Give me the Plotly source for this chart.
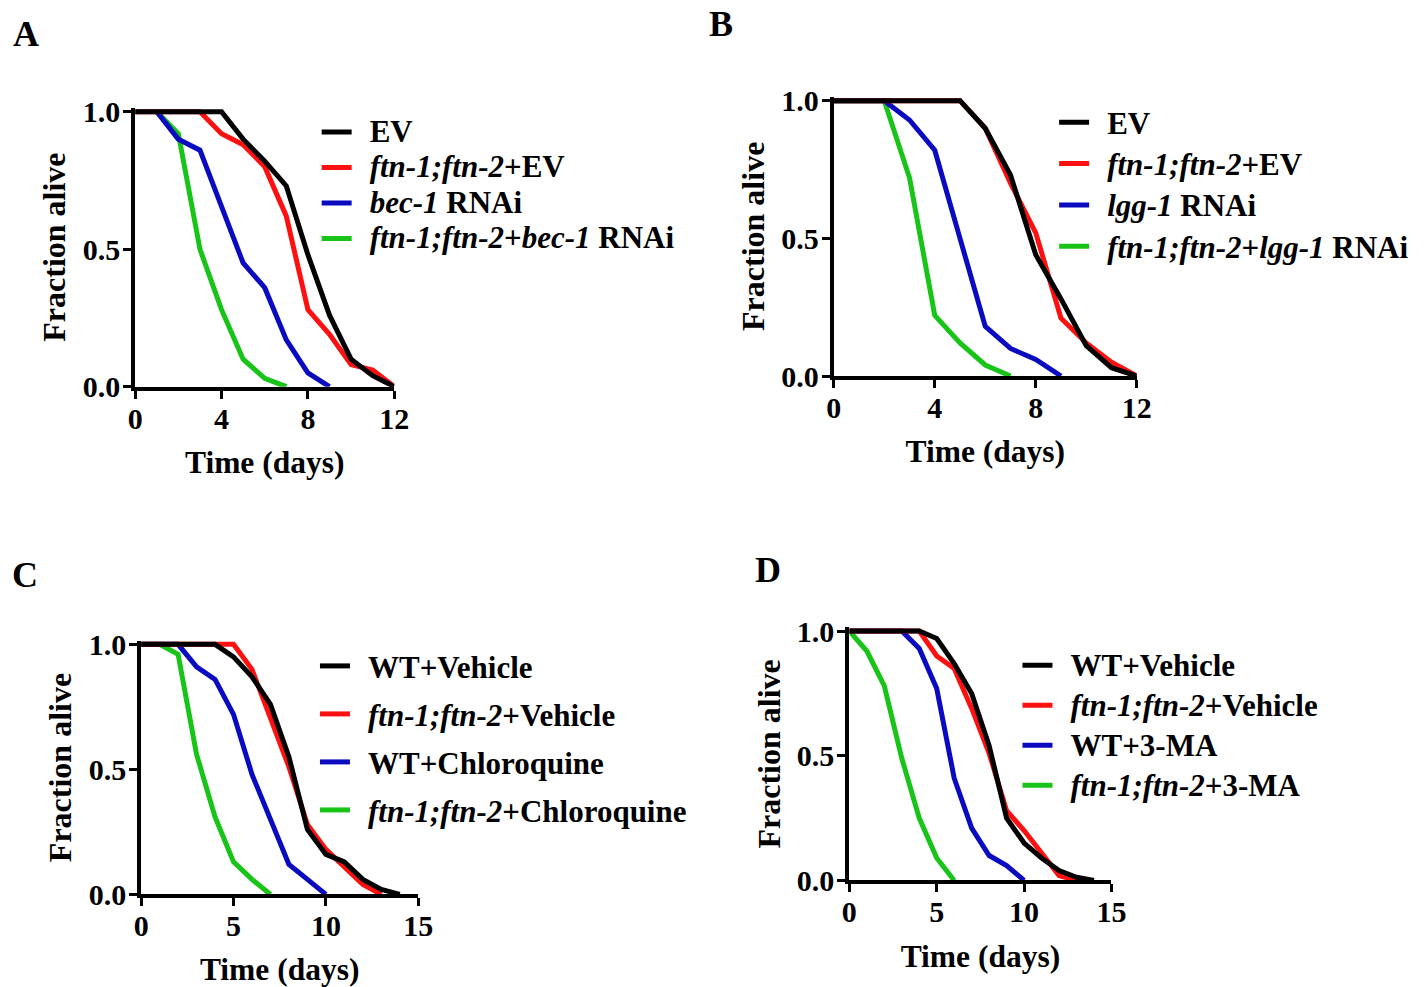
import plotly.graph_objects as go

# ---------------- data ----------------
# Panel A
a_ev_x = [0, 4, 5, 6, 7, 8, 9, 10, 11, 12]
a_ev_y = [1.0, 1.0, 0.90, 0.82, 0.73, 0.48, 0.26, 0.10, 0.04, 0.0]
a_ftn_x = [0, 3, 4, 5, 6, 7, 8, 9, 10, 11, 12]
a_ftn_y = [1.0, 1.0, 0.92, 0.88, 0.80, 0.62, 0.28, 0.19, 0.08, 0.06, 0.0]
a_bec_x = [1, 2, 3, 4, 5, 6, 7, 8, 9]
a_bec_y = [1.0, 0.90, 0.86, 0.66, 0.45, 0.36, 0.17, 0.05, 0.0]
a_ftnbec_x = [1, 2, 3, 4, 5, 6, 7]
a_ftnbec_y = [1.0, 0.92, 0.50, 0.28, 0.10, 0.03, 0.0]

# Panel B
b_ev_x = [0, 5, 6, 7, 8, 9, 10, 11, 12]
b_ev_y = [1.0, 1.0, 0.90, 0.73, 0.44, 0.28, 0.11, 0.03, 0.0]
b_ftn_x = [0, 5, 6, 7, 8, 9, 10, 11, 12]
b_ftn_y = [1.0, 1.0, 0.90, 0.70, 0.52, 0.21, 0.12, 0.05, 0.0]
b_lgg_x = [0, 2, 3, 4, 5, 6, 7, 8, 9]
b_lgg_y = [1.0, 1.0, 0.93, 0.82, 0.50, 0.18, 0.10, 0.06, 0.0]
b_ftnlgg_x = [0, 2, 3, 4, 5, 6, 7]
b_ftnlgg_y = [1.0, 1.0, 0.72, 0.22, 0.12, 0.04, 0.0]

# Panel C
c_wt_x = [0, 4, 5, 6, 7, 8, 9, 10, 11, 12, 13, 14]
c_wt_y = [1.0, 1.0, 0.95, 0.87, 0.76, 0.55, 0.26, 0.16, 0.13, 0.06, 0.02, 0.0]
c_ftn_x = [0, 5, 6, 7, 8, 9, 10, 11, 12, 13]
c_ftn_y = [1.0, 1.0, 0.90, 0.71, 0.51, 0.28, 0.18, 0.11, 0.04, 0.0]
c_wtcq_x = [0, 2, 3, 4, 5, 6, 7, 8, 9, 10]
c_wtcq_y = [1.0, 1.0, 0.91, 0.86, 0.72, 0.48, 0.30, 0.12, 0.06, 0.0]
c_ftncq_x = [0, 1, 2, 3, 4, 5, 6, 7]
c_ftncq_y = [1.0, 1.0, 0.96, 0.56, 0.31, 0.13, 0.06, 0.0]

# Panel D
d_wt_x = [0, 4, 5, 6, 7, 8, 9, 10, 11, 12, 13, 14]
d_wt_y = [1.0, 1.0, 0.97, 0.87, 0.75, 0.54, 0.25, 0.15, 0.09, 0.04, 0.013, 0.0]
d_ftn_x = [0, 4, 5, 6, 7, 8, 9, 10, 11, 12, 13]
d_ftn_y = [1.0, 1.0, 0.90, 0.85, 0.69, 0.51, 0.28, 0.20, 0.11, 0.02, 0.0]
d_wtma_x = [0, 3, 4, 5, 6, 7, 8, 9, 10]
d_wtma_y = [1.0, 1.0, 0.93, 0.77, 0.41, 0.21, 0.10, 0.06, 0.0]
d_ftnma_x = [0, 1, 2, 3, 4, 5, 6]
d_ftnma_y = [1.0, 0.92, 0.78, 0.49, 0.25, 0.09, 0.0]

# legend names
a_names = ["EV", "<i>ftn-1;ftn-2</i>+EV", "<i>bec-1</i> RNAi", "<i>ftn-1;ftn-2</i>+<i>bec-1</i> RNAi"]
b_names = ["EV", "<i>ftn-1;ftn-2</i>+EV", "<i>lgg-1</i> RNAi", "<i>ftn-1;ftn-2</i>+<i>lgg-1</i> RNAi"]
c_names = ["WT+Vehicle", "<i>ftn-1;ftn-2</i>+Vehicle", "WT+Chloroquine", "<i>ftn-1;ftn-2</i>+Chloroquine"]
d_names = ["WT+Vehicle", "<i>ftn-1;ftn-2</i>+Vehicle", "WT+3-MA", "<i>ftn-1;ftn-2</i>+3-MA"]

colors = ["#000000", "#ff1010", "#0a0ac0", "#18c418"]

panel_labels = ["A", "B", "C", "D"]

# ---------------- figure ----------------
W, H = 1428, 987
FONT = "Liberation Serif"
LEG_TXT = 31  # visual size of legend text (px)

# calibration of target (picture) pixel positions -> figure pixels
SX, OX, SY, OY = 0.985, 6.0, 0.972, 12.1

def fx(px):
    return (px - OX) / SX

def fy(py):
    return (py - OY) / SY

fig = go.Figure()

panels = [
    ("x", "y", "legend", [(a_ev_x, a_ev_y), (a_ftn_x, a_ftn_y), (a_bec_x, a_bec_y), (a_ftnbec_x, a_ftnbec_y)], a_names),
    ("x2", "y2", "legend2", [(b_ev_x, b_ev_y), (b_ftn_x, b_ftn_y), (b_lgg_x, b_lgg_y), (b_ftnlgg_x, b_ftnlgg_y)], b_names),
    ("x3", "y3", "legend3", [(c_wt_x, c_wt_y), (c_ftn_x, c_ftn_y), (c_wtcq_x, c_wtcq_y), (c_ftncq_x, c_ftncq_y)], c_names),
    ("x4", "y4", "legend4", [(d_wt_x, d_wt_y), (d_ftn_x, d_ftn_y), (d_wtma_x, d_wtma_y), (d_ftnma_x, d_ftnma_y)], d_names),
]

GAP = '<span style="font-size:26px">&nbsp;&nbsp;</span>'
for pi, (xa, ya, lg, series, names) in enumerate(panels):
    for si in [3, 2, 1, 0]:
        sx, sy = series[si]
        fig.add_trace(go.Scatter(
            x=sx, y=sy, mode="lines",
            name=f'{GAP}<span style="font-size:{LEG_TXT}px">{names[si]}</span>',
            line=dict(color=colors[si], width=5),
            xaxis=xa, yaxis=ya, legend=lg, legendrank=si + 1,
            legendgroup=f"p{pi}s{si}",
        ))

YTOP = 1.015
# target pixel positions: (x at 0, x at max, y at 1.0, y at 0.0, xmax, xticks)
geo = [
    (133.3, 392.7, 111.0, 386.7, 12, [0, 4, 8, 12]),
    (832.7, 1136.0, 100.0, 376.0, 12, [0, 4, 8, 12]),
    (139.3, 416.7, 645.0, 895.7, 15, [0, 5, 10, 15]),
    (848.3, 1110.7, 631.7, 881.7, 15, [0, 5, 10, 15]),
]

axis_font = dict(family=FONT, size=30, color="black", weight="bold")
xtitle_font = dict(family=FONT, size=31.5, color="black", weight="bold")
ytitle_font = dict(family=FONT, size=32, color="black", weight="bold")

for i, (x0, x1, y1, y0, xmax, xt) in enumerate(geo):
    suf = "" if i == 0 else str(i + 1)
    X0, X1, Y1, Y0 = fx(x0), fx(x1), fy(y1), fy(y0)
    ytop_px = Y0 - (Y0 - Y1) * YTOP
    fig.layout["xaxis" + suf] = dict(
        domain=[X0 / W, X1 / W], range=[0, xmax], anchor="y" + suf,
        showgrid=False, zeroline=False, showline=True, linewidth=4, linecolor="black",
        ticks="outside", ticklen=8, tickwidth=3, tickcolor="black",
        tickvals=xt, tickfont=axis_font, ticklabelstandoff=-6,
        title=dict(text="Time (days)", font=xtitle_font, standoff=18),
    )
    fig.layout["yaxis" + suf] = dict(
        domain=[(H - Y0) / H, (H - ytop_px) / H], range=[0, YTOP], anchor="x" + suf,
        showgrid=False, zeroline=False, showline=True, linewidth=4, linecolor="black",
        ticks="outside", ticklen=8, tickwidth=3, tickcolor="black",
        tickvals=[0, 0.5, 1.0], tickformat=".1f", tickfont=axis_font, ticklabelstandoff=-3,
        title=dict(text="Fraction alive", font=ytitle_font, standoff=8),
    )

# (target left px of legend line, target centre px of first item, legend font size -> spacing, group gap)
leg_geo = [(321.7, 131.7, 25, 0), (1060.0, 121.7, 29.5, 0), (320.0, 666.7, 30, 6), (1023.3, 666.0, 28.5, 0)]
for i, (lx, cy, fs, gap) in enumerate(leg_geo):
    name = "legend" if i == 0 else f"legend{i + 1}"
    top = fy(cy) - ((1.3 * fs + 3) / 2 + 5.9)
    left = fx(lx) - 6.8
    fig.layout[name] = dict(
        x=left / W, y=(H - top) / H, xanchor="left", yanchor="top",
        bgcolor="rgba(0,0,0,0)", borderwidth=0,
        font=dict(family=FONT, size=fs, color="black", weight="bold"),
        tracegroupgap=gap, traceorder="grouped" if gap else "normal",
    )

label_pos = [(24.5, 32.8), (720.0, 23.0), (23.3, 575.0), (766.7, 570.0)]
for lab, (lx, ly) in zip(panel_labels, label_pos):
    fig.add_annotation(
        text=lab, x=fx(lx) / W, y=(H - fy(ly)) / H, xref="paper", yref="paper",
        xanchor="center", yanchor="middle", showarrow=False,
        font=dict(family=FONT, size=36, color="black", weight="bold"),
    )

fig.update_layout(
    width=W, height=H, margin=dict(l=0, r=0, t=0, b=0),
    paper_bgcolor="white", plot_bgcolor="white", showlegend=True,
)

fig.write_html(
    "out.html",
    config={"displayModeBar": False},
    post_script="document.body.style.margin='0px';document.body.style.overflow='hidden';",
)
